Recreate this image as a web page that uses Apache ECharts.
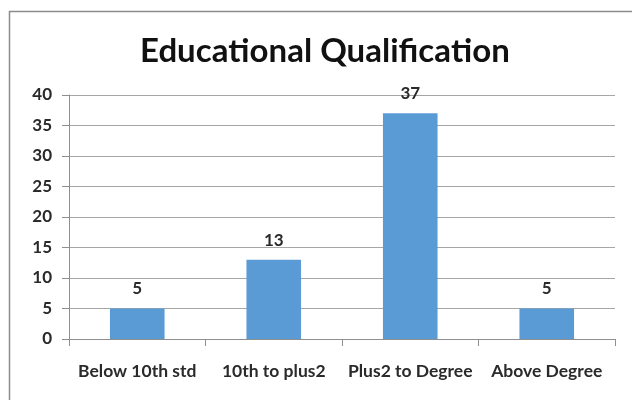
<!DOCTYPE html>
<html><head><meta charset="utf-8">
<script src="https://cdn.jsdelivr.net/npm/echarts@6/dist/echarts.min.js"></script>
<style>html,body{margin:0;padding:0;background:#fff}#c{width:632px;height:400px}</style>
</head><body><div id="c"></div>
<script>
const categories = ['Below 10th std', '10th to plus2', 'Plus2 to Degree', 'Above Degree'];
const values = [5, 13, 37, 5];
const yTicks = [0, 5, 10, 15, 20, 25, 30, 35, 40];
const titleParts = ['Educa', 'tional Qualifica', 'tion'];

const chart = echarts.init(document.getElementById('c'), null, {renderer: 'canvas'});
const lbl = {fontFamily: 'Lato', fontWeight: 'bold', fontSize: 17, color: '#2a2a2a'};
const tStyle = {fontFamily: 'Lato', fontWeight: 'bold', fontSize: 33, color: '#111'};
chart.setOption({
  animation: false,
  backgroundColor: '#fff',
  graphic: [{
    type: 'rect', left: 7, top: 9, shape: {width: 700, height: 500},
    style: {fill: 'none', stroke: '#8c8c8c', lineWidth: 1.5}, z: -1
  }],
  title: {
    text: titleParts.map(p => '{t|' + p + '}').join(''), left: 135, top: 30,
    textStyle: Object.assign({rich: {t: tStyle}}, tStyle)
  },
  grid: {left: 69, right: 17, top: 95, bottom: 61, containLabel: false},
  xAxis: {
    type: 'category', data: categories,
    axisLine: {lineStyle: {color: '#8f8f8f', width: 1}},
    axisTick: {show: true, length: 7, lineStyle: {color: '#8f8f8f'}},
    axisLabel: Object.assign({margin: 23, interval: 0}, lbl, {fontSize: 17.5})
  },
  yAxis: {
    type: 'value', min: yTicks[0], max: yTicks[yTicks.length - 1], interval: 5,
    axisLine: {show: true, lineStyle: {color: '#8f8f8f', width: 1}},
    axisTick: {show: true, length: 7, lineStyle: {color: '#8f8f8f'}},
    splitLine: {lineStyle: {color: '#a6a6a6', width: 1}},
    axisLabel: Object.assign({margin: 17}, lbl)
  },
  series: [{
    type: 'bar', data: values, barWidth: '40%',
    itemStyle: {color: '#5b9bd5'},
    label: Object.assign({show: true, position: 'top', distance: 11}, lbl)
  }]
});
</script></body></html>
